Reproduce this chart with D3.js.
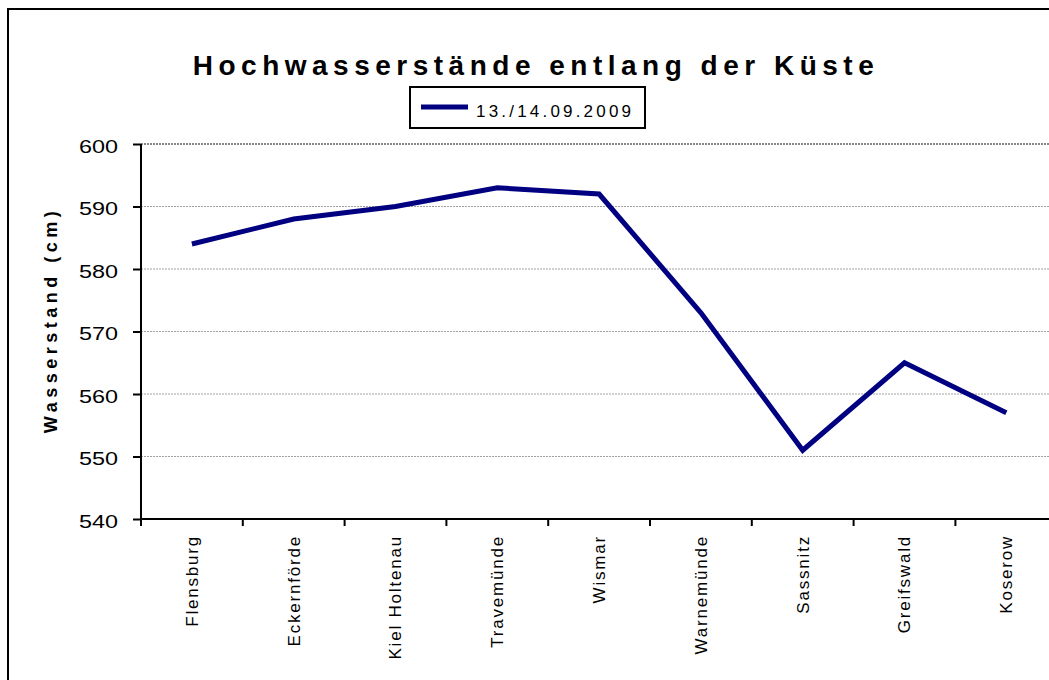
<!DOCTYPE html>
<html>
<head>
<meta charset="utf-8">
<script src="https://cdn.jsdelivr.net/npm/d3@7"></script>
<style>
  body { margin: 0; background: #fff; }
  svg text { font-family: "Liberation Sans", Arial, sans-serif; fill: #000; }
</style>
</head>
<body>
<script>
const stations = ["Flensburg", "Eckernförde", "Kiel Holtenau", "Travemünde", "Wismar",
                  "Warnemünde", "Sassnitz", "Greifswald", "Koserow"];
const levels = [584, 588, 590, 593, 592, 573, 551, 565, 557];
const yTicks = [540, 550, 560, 570, 580, 590, 600];
const seriesName = "13./14.09.2009";

const w = 1049,
      h = 680;

const svg = d3.select("body")
              .append("svg")
              .attr("width", w)
              .attr("height", h);

// outer frame (runs off the right / bottom edge)
svg.append("rect")
   .attr("x", 8).attr("y", 9)
   .attr("width", 1100).attr("height", 800)
   .attr("fill", "white")
   .attr("stroke", "black")
   .attr("stroke-width", 2);

const plotLeft = 141, plotTop = 144, plotBottom = 519, plotRight = 141 + 9 * 101.8;

const x = d3.scaleBand()
            .domain(stations)
            .range([plotLeft, plotRight]);

const y = d3.scaleLinear()
            .domain([540, 600])
            .range([plotBottom, plotTop]);

// grid
svg.append("g")
   .selectAll("line")
   .data(yTicks.filter(d => d > 540))
   .enter()
   .append("line")
   .attr("x1", plotLeft).attr("x2", plotRight)
   .attr("y1", d => y(d)).attr("y2", d => y(d))
   .attr("stroke", d => d === 600 ? "#888" : "#a0a0a0")
   .attr("stroke-width", d => d === 600 ? 2 : 1)
   .attr("stroke-dasharray", "2,1");

// y axis
const yAxis = svg.append("g")
   .attr("transform", "translate(" + plotLeft + ",0)")
   .call(d3.axisLeft(y).tickValues(yTicks).tickSize(8));
yAxis.select(".domain").attr("stroke-width", 2).attr("d", "M0," + plotTop + "V" + plotBottom);
yAxis.selectAll(".tick line").attr("stroke-width", 2);
yAxis.selectAll("text")
   .attr("x", 0)
   .attr("dy", "0.45em")
   .attr("transform", "translate(-23,0) scale(1.3,1)")
   .style("font-size", "18px");

// x axis
const xAxis = svg.append("g")
   .attr("transform", "translate(0," + plotBottom + ")")
   .call(d3.axisBottom(x).tickSize(0));
xAxis.select(".domain").attr("stroke-width", 2).attr("d", "M" + plotLeft + ",0H" + plotRight);
xAxis.selectAll(".tick text")
   .attr("transform", "rotate(-90)")
   .attr("text-anchor", "end")
   .attr("x", -16)
   .attr("y", 0)
   .attr("dy", "0.35em")
   .style("font-size", "17px")
   .style("letter-spacing", "1.8px");

xAxis.selectAll(".edge")
   .data(d3.range(stations.length + 1))
   .enter()
   .append("line")
   .attr("x1", i => plotLeft + i * x.step()).attr("x2", i => plotLeft + i * x.step())
   .attr("y1", 0).attr("y2", 7)
   .attr("stroke", "black").attr("stroke-width", 2);

// line
const line = d3.line()
   .x((d, i) => x(stations[i]) + x.bandwidth() / 2)
   .y(d => y(d));

svg.append("path")
   .datum(levels)
   .attr("d", line)
   .attr("fill", "none")
   .attr("stroke", "#000080")
   .attr("stroke-width", 5)
   .attr("stroke-linejoin", "miter");

// title
svg.append("text")
   .attr("x", 536).attr("y", 75)
   .attr("text-anchor", "middle")
   .style("font-size", "28px")
   .style("font-weight", "bold")
   .style("letter-spacing", "5.5px")
   .text("Hochwasserstände entlang der Küste");

// y title
svg.append("text")
   .attr("transform", "translate(57,320) rotate(-90)")
   .attr("text-anchor", "middle")
   .style("font-size", "18px")
   .style("font-weight", "bold")
   .style("letter-spacing", "4.5px")
   .text("Wasserstand (cm)");

// legend
const legend = svg.append("g");
legend.append("rect")
   .attr("x", 410).attr("y", 87)
   .attr("width", 235).attr("height", 41)
   .attr("fill", "white").attr("stroke", "black").attr("stroke-width", 2);
legend.append("line")
   .attr("x1", 421).attr("x2", 468)
   .attr("y1", 107).attr("y2", 107)
   .attr("stroke", "#000080").attr("stroke-width", 5);
legend.append("text")
   .attr("x", 476).attr("y", 117)
   .style("font-size", "17px")
   .style("letter-spacing", "3.2px")
   .text(seriesName);
</script>
</body>
</html>
